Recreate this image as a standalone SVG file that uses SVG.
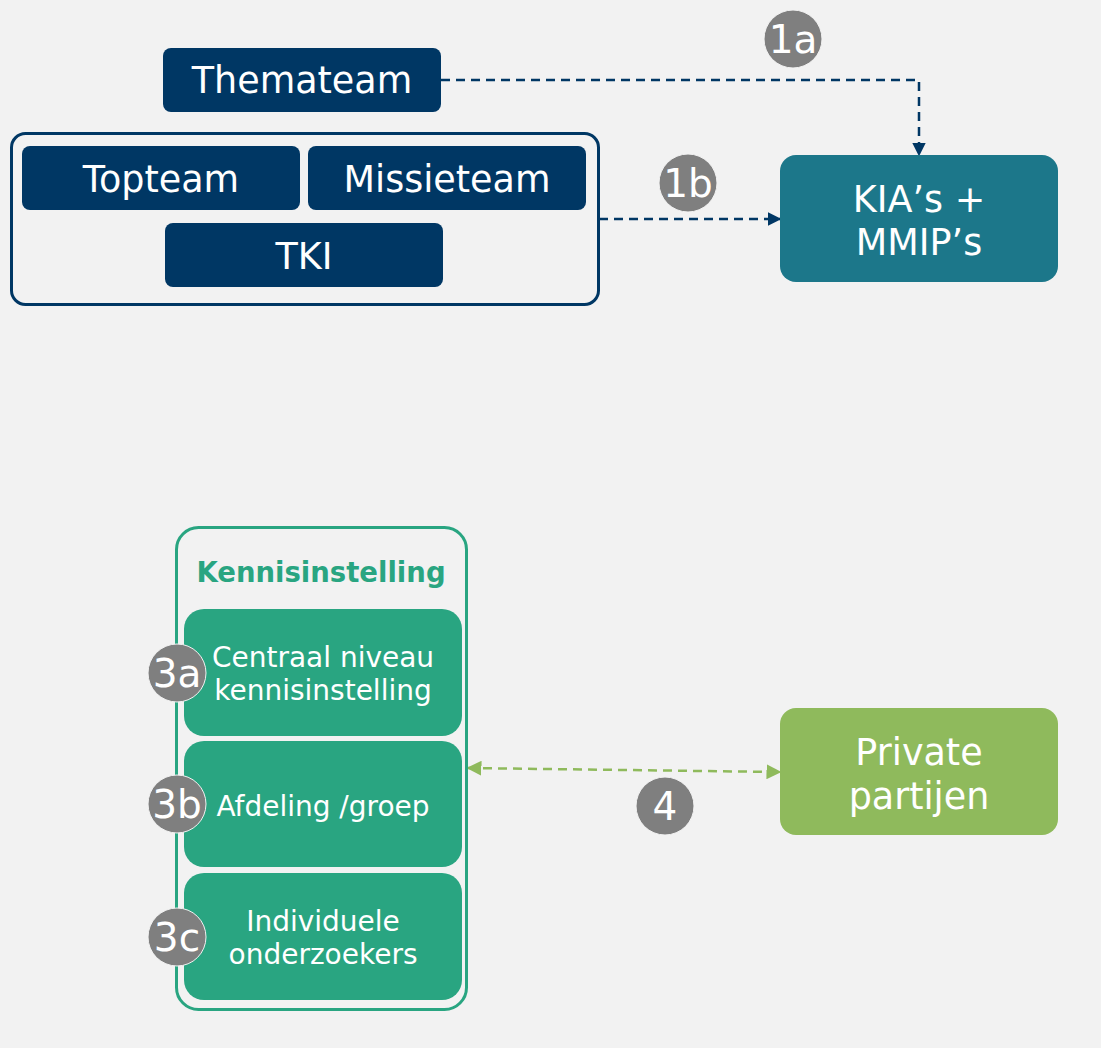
<svg xmlns="http://www.w3.org/2000/svg" width="1101" height="1048" viewBox="0 0 1101 1048">
<defs>
<style>
.navy{fill:#003764}
.t{font-family:"DejaVu Sans","Verdana",sans-serif;fill:#ffffff;text-anchor:middle}
.big{font-size:36.5px}
.mid{font-size:28px}
.badge{fill:#7f7f7f;stroke:#f2f2f2;stroke-width:1}
.bt{font-family:"DejaVu Sans",sans-serif;fill:#ffffff;text-anchor:middle;font-size:39px}
.green{fill:#29a581}
</style>
<marker id="ah" viewBox="0 0 10 10" refX="9" refY="5" markerWidth="5.5" markerHeight="5.5" orient="auto-start-reverse" markerUnits="strokeWidth"><path d="M0,0 L10,5 L0,10 z" fill="#003764"/></marker>
<marker id="ag" viewBox="0 0 10 10" refX="9" refY="5" markerWidth="6" markerHeight="6" orient="auto-start-reverse" markerUnits="strokeWidth"><path d="M0,0 L10,5 L0,10 z" fill="#8fba5c"/></marker>
</defs>
<rect width="1101" height="1048" fill="#f2f2f2"/>
<g id="connectors">
<path d="M441,80 H919 V155" fill="none" stroke="#003764" stroke-width="2.5" stroke-dasharray="9,6" marker-end="url(#ah)"/>
<path d="M599,219 H780" fill="none" stroke="#003764" stroke-width="2.5" stroke-dasharray="9,6" marker-end="url(#ah)"/>
<path d="M468,768 L780,772" fill="none" stroke="#8fba5c" stroke-width="2.5" stroke-dasharray="9,6" marker-start="url(#ag)" marker-end="url(#ag)"/>
</g>
<g id="themateam">
<rect class="navy" x="163" y="48" width="278" height="64" rx="8"/>
<text class="t big" x="302" y="93">Themateam</text>
</g>
<g id="group1b">
<rect x="11.5" y="133.5" width="587" height="171" rx="14" fill="none" stroke="#003764" stroke-width="3"/>
</g>
<g id="topteam">
<rect class="navy" x="22" y="146" width="278" height="64" rx="8"/>
<text class="t big" x="161" y="192">Topteam</text>
</g>
<g id="missieteam">
<rect class="navy" x="308" y="146" width="278" height="64" rx="8"/>
<text class="t big" x="447" y="192">Missieteam</text>
</g>
<g id="tki">
<rect class="navy" x="165" y="223" width="278" height="64" rx="8"/>
<text class="t big" x="304" y="269">TKI</text>
</g>
<g id="kia">
<rect x="780" y="155" width="278" height="127" rx="16" fill="#1c778a"/>
<text class="t big" x="919" y="212">KIA’s +</text>
<text class="t big" x="919" y="255">MMIP’s</text>
</g>
<g id="badge1a">
<circle class="badge" cx="793" cy="39" r="29"/>
<text class="bt" x="793" y="53">1a</text>
</g>
<g id="badge1b">
<circle class="badge" cx="688" cy="183" r="29"/>
<text class="bt" x="688" y="197">1b</text>
</g>
<g id="kennisinstelling">
<rect x="176.5" y="527.5" width="290" height="482" rx="22" fill="none" stroke="#29a581" stroke-width="3"/>
<text x="321" y="582" font-family="DejaVu Sans,Verdana,sans-serif" font-weight="bold" font-size="27.5" fill="#29a581" text-anchor="middle">Kennisinstelling</text>
</g>
<g id="centraal">
<rect class="green" x="184" y="609" width="278" height="127" rx="20"/>
<text class="t mid" x="323" y="667">Centraal niveau</text>
<text class="t mid" x="323" y="700">kennisinstelling</text>
</g>
<g id="afdeling">
<rect class="green" x="184" y="741" width="278" height="126" rx="20"/>
<text class="t mid" x="323" y="816">Afdeling /groep</text>
</g>
<g id="individuele">
<rect class="green" x="184" y="873" width="278" height="127" rx="20"/>
<text class="t mid" x="323" y="931">Individuele</text>
<text class="t mid" x="323" y="964">onderzoekers</text>
</g>
<g id="badge3a">
<circle class="badge" cx="177" cy="673" r="29"/>
<text class="bt" x="177" y="687">3a</text>
</g>
<g id="badge3b">
<circle class="badge" cx="177" cy="804" r="29"/>
<text class="bt" x="177" y="818">3b</text>
</g>
<g id="badge3c">
<circle class="badge" cx="177" cy="937" r="29"/>
<text class="bt" x="177" y="951">3c</text>
</g>
<g id="private">
<rect x="780" y="708" width="278" height="127" rx="16" fill="#8fba5c"/>
<text class="t big" x="919" y="765">Private</text>
<text class="t big" x="919" y="809">partijen</text>
</g>
<g id="badge4">
<circle class="badge" cx="665" cy="806" r="29"/>
<text class="bt" x="665" y="820">4</text>
</g>
</svg>
